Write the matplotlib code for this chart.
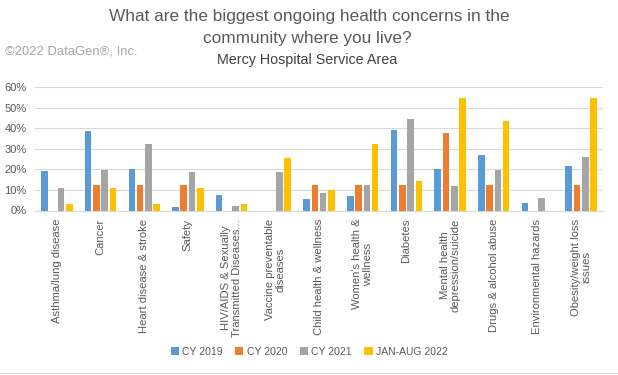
import matplotlib
matplotlib.use('Agg')
import matplotlib.pyplot as plt
import numpy as np

categories = [
    "Asthma/lung disease", "Cancer", "Heart disease & stroke", "Safety",
    "HIV/AIDS & Sexually\nTransmitted Diseases...", "Vaccine preventable\ndiseases",
    "Child health & wellness", "Women's health &\nwellness", "Diabetes",
    "Mental health\ndepression/suicide", "Drugs & alcohol abuse",
    "Environmental hazards", "Obesity/weight loss\nissues",
]
series_names = ["CY 2019", "CY 2020", "CY 2021", "JAN-AUG 2022"]
cy2019 = [19.1, 38.6, 20.1, 1.6, 7.4, 0, 5.5, 7.0, 39.0, 20.1, 26.9, 3.5, 21.6]
cy2020 = [0, 12.3, 12.3, 12.3, 0, 0, 12.3, 12.3, 12.3, 37.6, 12.3, 0, 12.3]
cy2021 = [10.8, 19.8, 32.3, 18.6, 2.1, 18.6, 8.6, 12.3, 44.4, 11.8, 19.6, 6.0, 25.9]
janaug2022 = [3.2, 10.8, 3.2, 10.8, 3.2, 25.4, 9.9, 32.3, 14.3, 54.8, 43.4, 0, 54.8]
colors = ["#5B9BD5", "#ED7D31", "#A5A5A5", "#FFC000"]

plt.rcParams['font.family'] = ['Liberation Sans', 'DejaVu Sans']

fig = plt.figure(figsize=(6.18, 3.75), dpi=100)
ax = fig.add_axes([35 / 618, 1 - 210.5 / 375, 568 / 618, 123.5 / 375])

x = np.arange(len(categories))
w = 0.15
step = 0.19
for i, (vals, name) in enumerate(zip([cy2019, cy2020, cy2021, janaug2022], series_names)):
    ax.bar(x + (i - 1.5) * step, np.array(vals) / 100, width=w, color=colors[i],
           label=name, zorder=3)

ax.set_xlim(-0.5, len(categories) - 0.5)
ax.set_ylim(0, 0.6)
ax.set_yticks(np.arange(0, 0.61, 0.1))
ax.set_yticklabels([f"{int(round(v * 100))}%" for v in np.arange(0, 0.61, 0.1)])
ax.yaxis.grid(True, color="#D9D9D9", linewidth=0.8, zorder=0)
for s in ["top", "right", "left"]:
    ax.spines[s].set_visible(False)
ax.spines["bottom"].set_color("#D9D9D9")
ax.tick_params(axis="y", length=0, labelsize=8, colors="#595959", pad=6)
ax.tick_params(axis="x", length=0, labelsize=8.1, colors="#595959", pad=6)
ax.set_xticks(x)
ax.set_xticklabels(categories, rotation=90, va="top", ha="center", linespacing=1.1)

fig.text(0.5, 1 - 16 / 375, "What are the biggest ongoing health concerns in the",
         ha="center", va="center", fontsize=12.4, color="#595959")
fig.text(0.497, 1 - 39 / 375, "community where you live?",
         ha="center", va="center", fontsize=12.4, color="#595959")
fig.text(0.497, 1 - 60 / 375, "Mercy Hospital Service Area",
         ha="center", va="center", fontsize=10.3, color="#404040")
fig.text(5 / 618, 1 - 52 / 375, "\u00a92022 DataGen\u00ae, Inc.",
         ha="left", va="center", fontsize=9.4, color="#A6A6A6")

fig.legend(loc="center", bbox_to_anchor=(0.5, 1 - 352 / 375), ncol=4, frameon=False,
           fontsize=7.5, handlelength=0.8, handleheight=0.8, handletextpad=0.3,
           columnspacing=1.2, labelcolor="#595959")

fig.add_artist(plt.Line2D([0, 1], [1 - 373 / 375] * 2, color="#D9D9D9", linewidth=0.8))

fig.savefig("out.png", dpi=100)
